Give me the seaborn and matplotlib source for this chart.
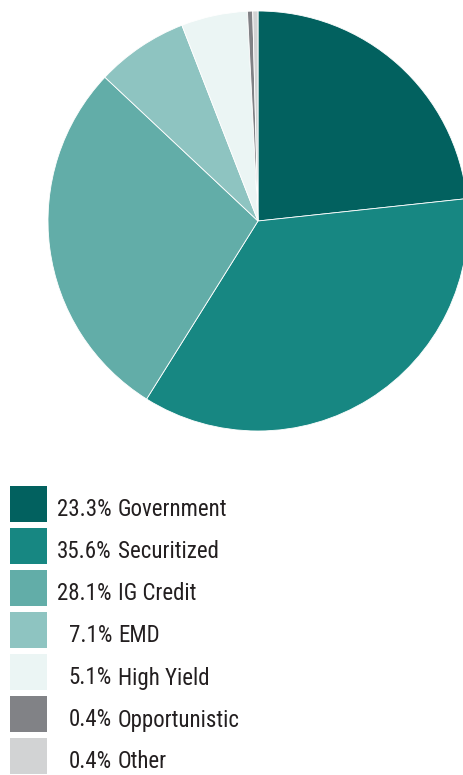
import matplotlib
matplotlib.use("Agg")
import matplotlib.pyplot as plt
import seaborn as sns
from matplotlib.patches import Rectangle

sectors = ["Government", "Securitized", "IG Credit", "EMD", "High Yield", "Opportunistic", "Other"]
weights = [23.3, 35.6, 28.1, 7.1, 5.1, 0.4, 0.4]
colors = ["#02615f", "#178782", "#62ada8", "#8ec4c1", "#ebf5f4", "#818286", "#d2d3d4"]

sns.set_theme(style="white")
plt.rcParams["font.family"] = ["Roboto Condensed", "DejaVu Sans"]

W, H = 464, 775
fig = plt.figure(figsize=(W / 100, H / 100), dpi=100)
fig.patch.set_facecolor("white")

# pie: centre (258, 221) px, radius 210 px
cx, cy, r = 258, 221, 210
ax = fig.add_axes([(cx - r) / W, (H - cy - r) / H, 2 * r / W, 2 * r / H])
ax.pie(weights, colors=colors, startangle=90, counterclock=False,
       radius=1.0, wedgeprops=dict(linewidth=0.6, edgecolor="white"))
ax.set_xlim(-1, 1)
ax.set_ylim(-1, 1)
ax.set_aspect("equal")
ax.axis("off")
for p in ax.patches:
    p.set_clip_on(False)

# legend drawn in pixel coordinates
leg = fig.add_axes([0, 0, 1, 1])
leg.set_xlim(0, W)
leg.set_ylim(H, 0)
leg.axis("off")
top0, pitch, size = 486, 42, 36
for i, (name, w, c) in enumerate(zip(sectors, weights, colors)):
    y = top0 + i * pitch
    leg.add_patch(Rectangle((10, y), 37, size, facecolor=c, edgecolor="none"))
    base = y + 30.5
    leg.text(112, base, f"{w:.1f}%", ha="right", va="baseline", fontsize=16.5, color="#231f20")
    leg.text(118, base, name, ha="left", va="baseline", fontsize=16.5, color="#231f20")

fig.savefig("out.png", dpi=100, facecolor="white")
